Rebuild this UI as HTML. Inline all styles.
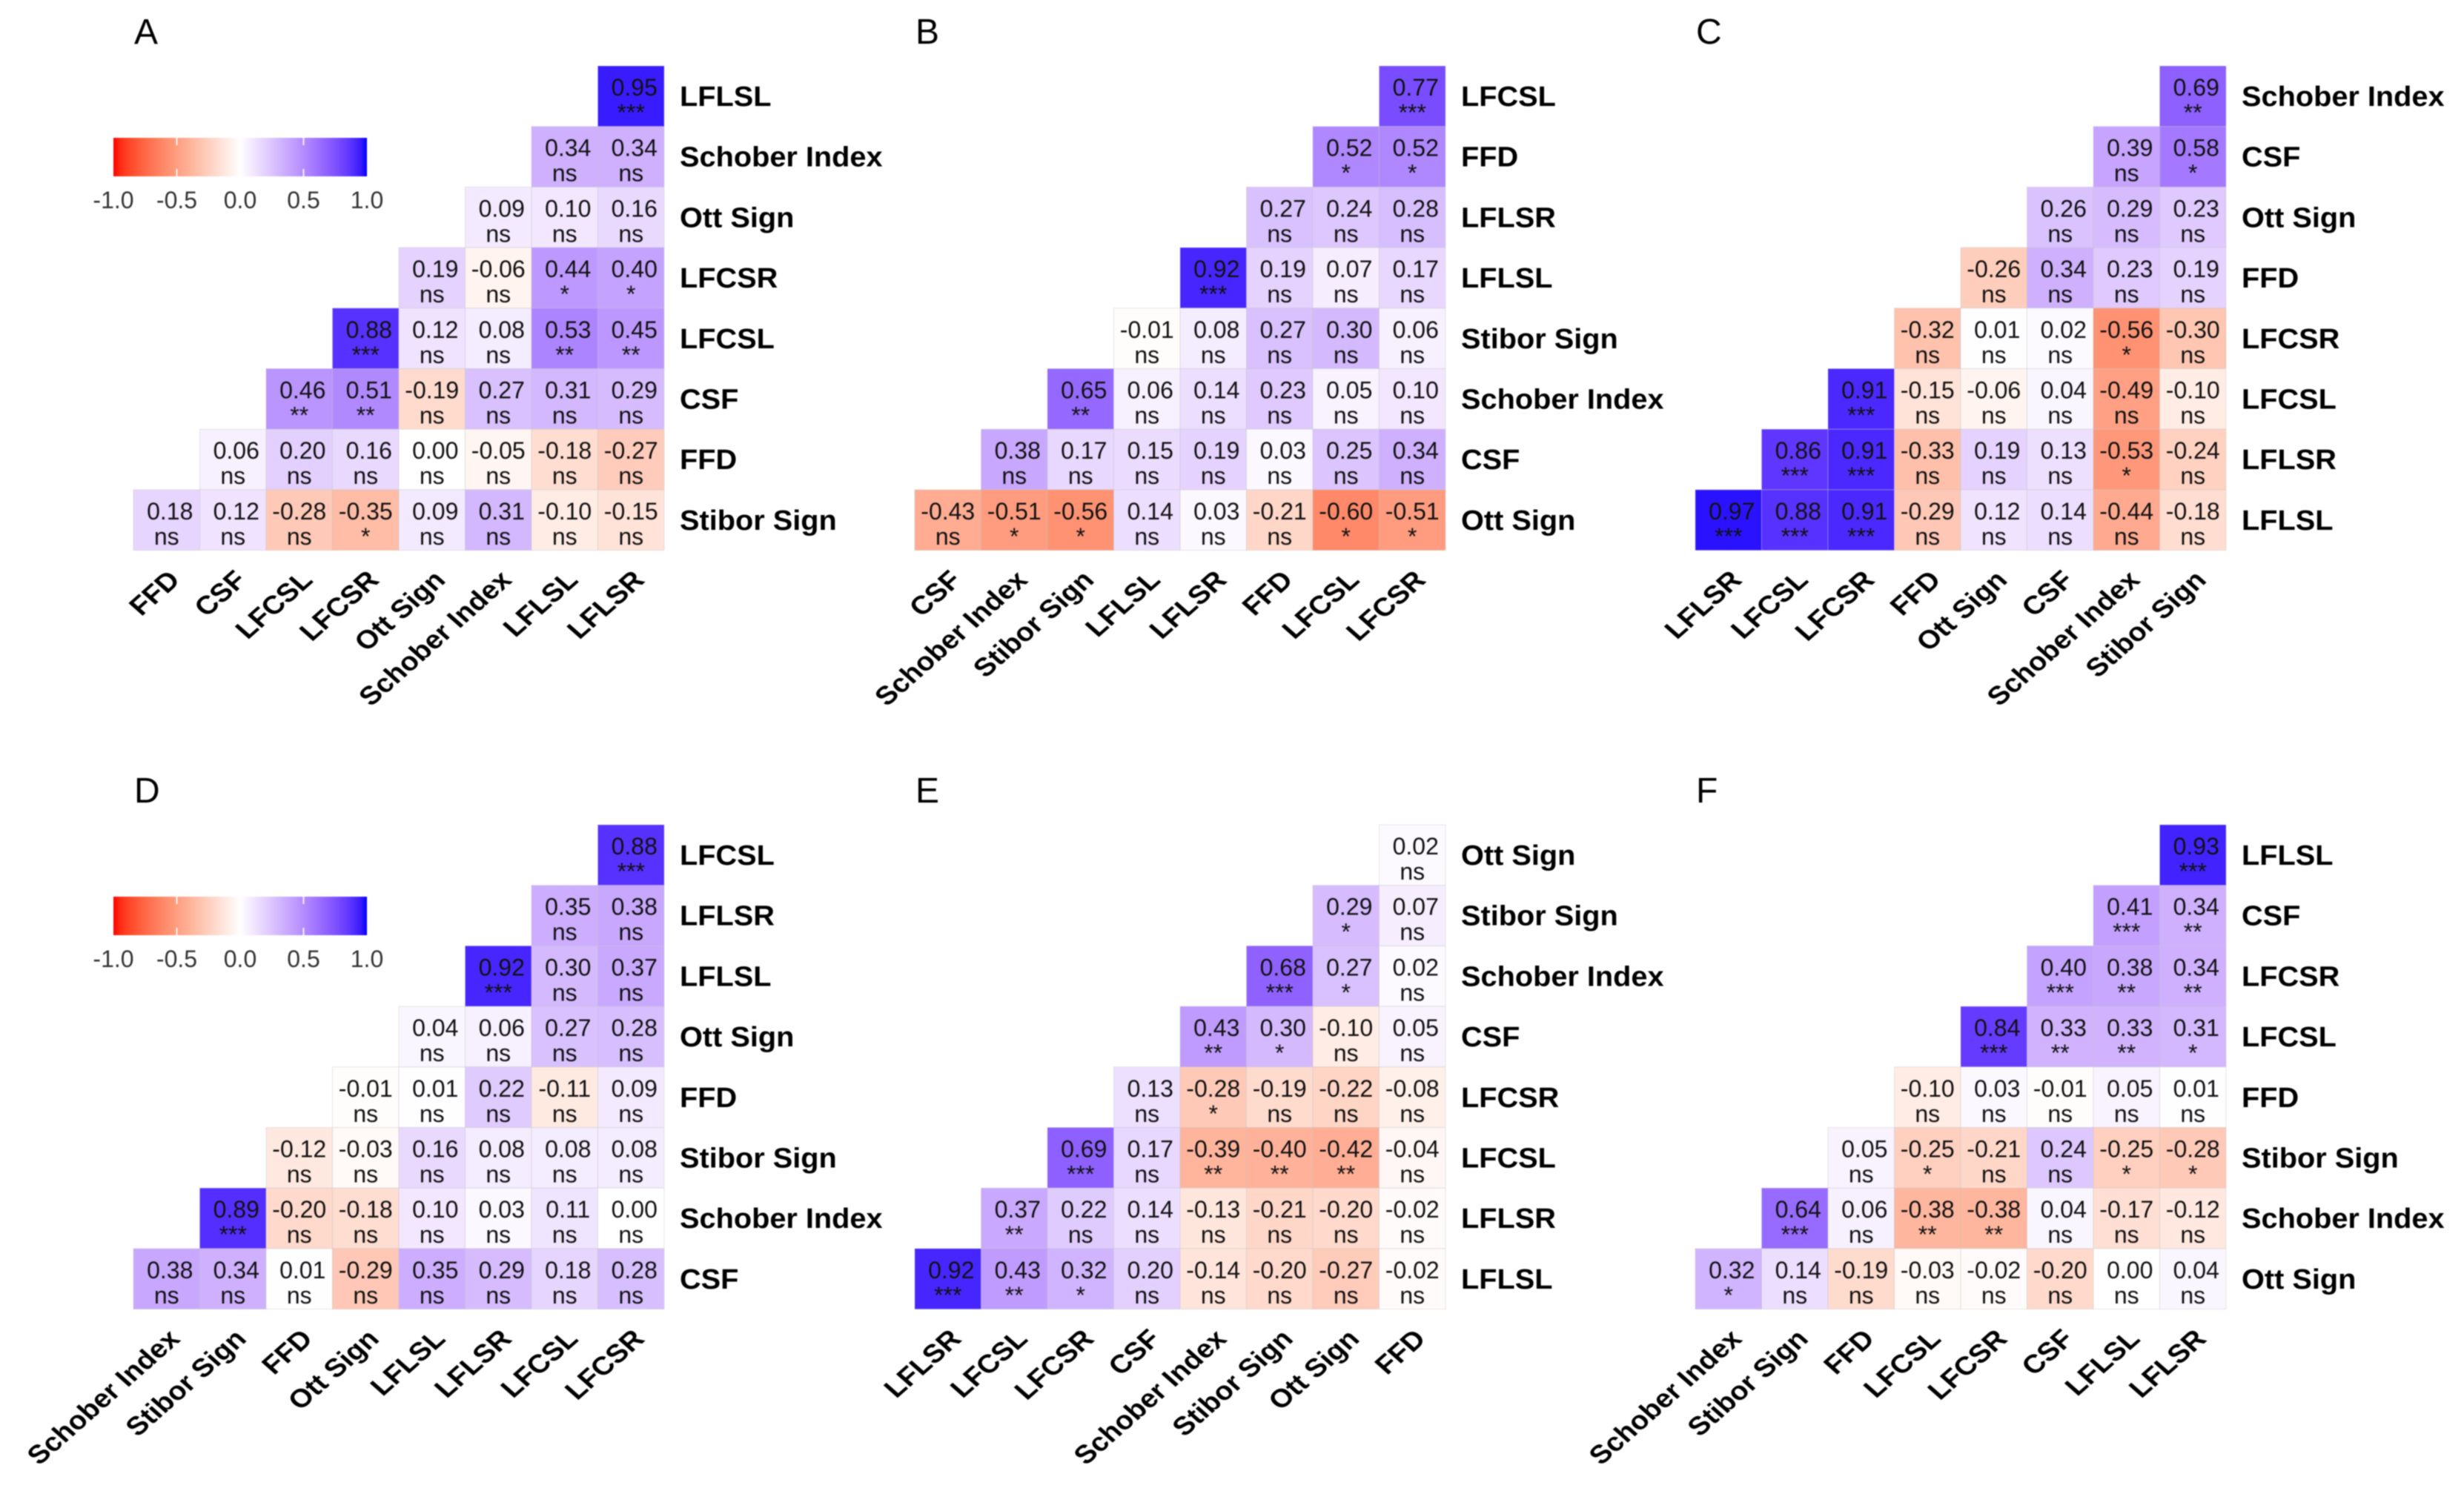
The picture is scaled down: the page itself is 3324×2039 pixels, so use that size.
<!DOCTYPE html>
<html lang="en">
<head>
<meta charset="utf-8">
<title>Correlation heatmaps A-F</title>
<style>
html,body{margin:0;padding:0;background:#fff;width:3324px;height:2039px;overflow:hidden}
svg{display:block;filter:blur(0.7px)}
text{font-family:"Liberation Sans",sans-serif}
</style>
</head>
<body>
<svg id="figure" xmlns="http://www.w3.org/2000/svg" width="3324" height="2039" viewBox="0 0 3324 2039">
<rect x="0" y="0" width="3324" height="2039" fill="#ffffff"/>
<defs id="defs"></defs>
</svg>
<script>
const panelALetter = 'A';
const panelARows = ['LFLSL','Schober Index','Ott Sign','LFCSR','LFCSL','CSF','FFD','Stibor Sign'];
const panelACols = ['FFD','CSF','LFCSL','LFCSR','Ott Sign','Schober Index','LFLSL','LFLSR'];
const panelAValues = [
 [0.95],
 [0.34,0.34],
 [0.09,0.10,0.16],
 [0.19,-0.06,0.44,0.40],
 [0.88,0.12,0.08,0.53,0.45],
 [0.46,0.51,-0.19,0.27,0.31,0.29],
 [0.06,0.20,0.16,0.00,-0.05,-0.18,-0.27],
 [0.18,0.12,-0.28,-0.35,0.09,0.31,-0.10,-0.15]
];
const panelASig = [
 ['***'],
 ['ns','ns'],
 ['ns','ns','ns'],
 ['ns','ns','*','*'],
 ['***','ns','ns','**','**'],
 ['**','**','ns','ns','ns','ns'],
 ['ns','ns','ns','ns','ns','ns','ns'],
 ['ns','ns','ns','*','ns','ns','ns','ns']
];

const panelBLetter = 'B';
const panelBRows = ['LFCSL','FFD','LFLSR','LFLSL','Stibor Sign','Schober Index','CSF','Ott Sign'];
const panelBCols = ['CSF','Schober Index','Stibor Sign','LFLSL','LFLSR','FFD','LFCSL','LFCSR'];
const panelBValues = [
 [0.77],
 [0.52,0.52],
 [0.27,0.24,0.28],
 [0.92,0.19,0.07,0.17],
 [-0.01,0.08,0.27,0.30,0.06],
 [0.65,0.06,0.14,0.23,0.05,0.10],
 [0.38,0.17,0.15,0.19,0.03,0.25,0.34],
 [-0.43,-0.51,-0.56,0.14,0.03,-0.21,-0.60,-0.51]
];
const panelBSig = [
 ['***'],
 ['*','*'],
 ['ns','ns','ns'],
 ['***','ns','ns','ns'],
 ['ns','ns','ns','ns','ns'],
 ['**','ns','ns','ns','ns','ns'],
 ['ns','ns','ns','ns','ns','ns','ns'],
 ['ns','*','*','ns','ns','ns','*','*']
];

const panelCLetter = 'C';
const panelCRows = ['Schober Index','CSF','Ott Sign','FFD','LFCSR','LFCSL','LFLSR','LFLSL'];
const panelCCols = ['LFLSR','LFCSL','LFCSR','FFD','Ott Sign','CSF','Schober Index','Stibor Sign'];
const panelCValues = [
 [0.69],
 [0.39,0.58],
 [0.26,0.29,0.23],
 [-0.26,0.34,0.23,0.19],
 [-0.32,0.01,0.02,-0.56,-0.30],
 [0.91,-0.15,-0.06,0.04,-0.49,-0.10],
 [0.86,0.91,-0.33,0.19,0.13,-0.53,-0.24],
 [0.97,0.88,0.91,-0.29,0.12,0.14,-0.44,-0.18]
];
const panelCSig = [
 ['**'],
 ['ns','*'],
 ['ns','ns','ns'],
 ['ns','ns','ns','ns'],
 ['ns','ns','ns','*','ns'],
 ['***','ns','ns','ns','ns','ns'],
 ['***','***','ns','ns','ns','*','ns'],
 ['***','***','***','ns','ns','ns','ns','ns']
];

const panelDLetter = 'D';
const panelDRows = ['LFCSL','LFLSR','LFLSL','Ott Sign','FFD','Stibor Sign','Schober Index','CSF'];
const panelDCols = ['Schober Index','Stibor Sign','FFD','Ott Sign','LFLSL','LFLSR','LFCSL','LFCSR'];
const panelDValues = [
 [0.88],
 [0.35,0.38],
 [0.92,0.30,0.37],
 [0.04,0.06,0.27,0.28],
 [-0.01,0.01,0.22,-0.11,0.09],
 [-0.12,-0.03,0.16,0.08,0.08,0.08],
 [0.89,-0.20,-0.18,0.10,0.03,0.11,0.00],
 [0.38,0.34,0.01,-0.29,0.35,0.29,0.18,0.28]
];
const panelDSig = [
 ['***'],
 ['ns','ns'],
 ['***','ns','ns'],
 ['ns','ns','ns','ns'],
 ['ns','ns','ns','ns','ns'],
 ['ns','ns','ns','ns','ns','ns'],
 ['***','ns','ns','ns','ns','ns','ns'],
 ['ns','ns','ns','ns','ns','ns','ns','ns']
];

const panelELetter = 'E';
const panelERows = ['Ott Sign','Stibor Sign','Schober Index','CSF','LFCSR','LFCSL','LFLSR','LFLSL'];
const panelECols = ['LFLSR','LFCSL','LFCSR','CSF','Schober Index','Stibor Sign','Ott Sign','FFD'];
const panelEValues = [
 [0.02],
 [0.29,0.07],
 [0.68,0.27,0.02],
 [0.43,0.30,-0.10,0.05],
 [0.13,-0.28,-0.19,-0.22,-0.08],
 [0.69,0.17,-0.39,-0.40,-0.42,-0.04],
 [0.37,0.22,0.14,-0.13,-0.21,-0.20,-0.02],
 [0.92,0.43,0.32,0.20,-0.14,-0.20,-0.27,-0.02]
];
const panelESig = [
 ['ns'],
 ['*','ns'],
 ['***','*','ns'],
 ['**','*','ns','ns'],
 ['ns','*','ns','ns','ns'],
 ['***','ns','**','**','**','ns'],
 ['**','ns','ns','ns','ns','ns','ns'],
 ['***','**','*','ns','ns','ns','ns','ns']
];

const panelFLetter = 'F';
const panelFRows = ['LFLSL','CSF','LFCSR','LFCSL','FFD','Stibor Sign','Schober Index','Ott Sign'];
const panelFCols = ['Schober Index','Stibor Sign','FFD','LFCSL','LFCSR','CSF','LFLSL','LFLSR'];
const panelFValues = [
 [0.93],
 [0.41,0.34],
 [0.40,0.38,0.34],
 [0.84,0.33,0.33,0.31],
 [-0.10,0.03,-0.01,0.05,0.01],
 [0.05,-0.25,-0.21,0.24,-0.25,-0.28],
 [0.64,0.06,-0.38,-0.38,0.04,-0.17,-0.12],
 [0.32,0.14,-0.19,-0.03,-0.02,-0.20,0.00,0.04]
];
const panelFSig = [
 ['***'],
 ['***','**'],
 ['***','**','**'],
 ['***','**','**','*'],
 ['ns','ns','ns','ns','ns'],
 ['ns','*','ns','ns','*','*'],
 ['***','ns','**','**','ns','ns','ns'],
 ['*','ns','ns','ns','ns','ns','ns','ns']
];

const legendTicks = [-1.0,-0.5,0.0,0.5,1.0];

const NS = 'http://www.w3.org/2000/svg';
const svg = document.getElementById('figure');
const defs = document.getElementById('defs');

const CELL_W = 89.5;
const CELL_H = 81.7;
const GRID_N = 8;

function xAxis(originX, col) { return originX + col * CELL_W; }
function yAxis(originY, row) { return originY + row * CELL_H; }

const LAB_WHITE = [100, 0, 0];
const LAB_BLUE = [32.30, 79.19, -107.86];
const LAB_RED = [53.24, 80.09, 67.20];

function labToRgb(L, a, b) {
  const fy = (L + 16) / 116, fx = fy + a / 500, fz = fy - b / 200;
  const inv = function (t) { return t > 6 / 29 ? t * t * t : 3 * (6 / 29) * (6 / 29) * (t - 4 / 29); };
  const X = 0.95047 * inv(fx), Y = inv(fy), Z = 1.08883 * inv(fz);
  const lin = [
    3.2406 * X - 1.5372 * Y - 0.4986 * Z,
    -0.9689 * X + 1.8758 * Y + 0.0415 * Z,
    0.0557 * X - 0.2040 * Y + 1.0570 * Z
  ];
  const c = lin.map(function (v) {
    v = Math.max(0, Math.min(1, v));
    const s = v <= 0.0031308 ? 12.92 * v : 1.055 * Math.pow(v, 1 / 2.4) - 0.055;
    return Math.round(255 * s);
  });
  return 'rgb(' + c[0] + ',' + c[1] + ',' + c[2] + ')';
}
function colorScale(v) {
  const t = Math.min(1, Math.abs(v));
  const end = v >= 0 ? LAB_BLUE : LAB_RED;
  return labToRgb(
    LAB_WHITE[0] + (end[0] - LAB_WHITE[0]) * t,
    LAB_WHITE[1] + (end[1] - LAB_WHITE[1]) * t,
    LAB_WHITE[2] + (end[2] - LAB_WHITE[2]) * t
  );
}

function make(tag, attrs, parent, content) {
  const el = document.createElementNS(NS, tag);
  for (const k in attrs) el.setAttribute(k, attrs[k]);
  if (content !== undefined) el.textContent = content;
  parent.appendChild(el);
  return el;
}

function drawLegend(ox, oy, id) {
  const bx = ox - 27, by = oy + 97, bw = 342, bh = 52;
  const g = make('g', {}, svg);
  
  
  const grad = make('linearGradient', { id: id, x1: '0', x2: '1', y1: '0', y2: '0' }, defs);
  for (let i = 0; i <= 40; i++) {
    make('stop', { offset: (i / 40), 'stop-color': colorScale(-1 + i / 20) }, grad);
  }
  const bar = make('rect', { x: bx, y: by, width: bw, height: bh, fill: 'url(#' + id + ')' }, g);
  
  
  const lx = function (v) { return bx + (v + 1) / 2 * bw; };
  legendTicks.forEach(function (t) {
    if (Math.abs(t) < 1 && t !== 0) {
      make('rect', { x: lx(t) - 1, y: by, width: 2, height: 10, fill: '#fff', opacity: 0.85 }, g);
      make('rect', { x: lx(t) - 1, y: by + bh - 10, width: 2, height: 10, fill: '#fff', opacity: 0.85 }, g);
    }
    const label = make('text', { x: lx(t), y: by + 95, 'font-size': 32, 'text-anchor': 'middle', fill: '#333' }, g, t.toFixed(1));
    
    
  });
}

function drawPanel(letter, rows, cols, values, sig, ox, oy) {
  const g = make('g', {}, svg);
  
  

  const title = make('text', { x: ox + 1, y: oy - 30, 'font-size': 48, fill: '#000' }, g, letter);
  
  

  values.forEach(function (rowVals, r) {
    const start = GRID_N - rowVals.length;
    rowVals.forEach(function (v, k) {
      const c = start + k;
      const x = xAxis(ox, c), y = yAxis(oy, r);
      const cell = make('g', {}, g);
      
      
      make('rect', { x: x, y: y, width: CELL_W, height: CELL_H, fill: colorScale(v), stroke: 'rgba(195,195,195,0.4)', 'stroke-width': 1 }, cell);
      const cx = x + CELL_W / 2;
      const vx = v < 0 ? cx : cx + 4.5;
      const valText = make('text', { x: vx, y: y + 40, 'font-size': 32, 'text-anchor': 'middle', fill: '#111' }, cell, v.toFixed(2));
      
      
      const sigText = make('text', { x: cx, y: y + 74, 'font-size': 32, 'text-anchor': 'middle', fill: '#111' }, cell, sig[r][k]);
      
      
    });
  });

  rows.forEach(function (name, r) {
    const t = make('text', {
      x: 0, y: 0, 'font-size': 38, 'font-weight': 'bold', fill: '#000',
      transform: 'translate(' + (xAxis(ox, GRID_N) + 21) + ',' + (yAxis(oy, r) + 54) + ') scale(1.045,1)'
    }, g, name);
    
    
  });

  cols.forEach(function (name, c) {
    const bxp = xAxis(ox, c) + CELL_W / 2 + 20;
    const byp = yAxis(oy, GRID_N) + 42;
    const t = make('text', {
      x: 0, y: 0, 'font-size': 37.5, 'font-weight': 'bold', 'text-anchor': 'end', fill: '#000',
      transform: 'translate(' + bxp + ',' + byp + ') scale(1.05,0.93) rotate(-45)'
    }, g, name);
    
    
  });
}

const COL_A = 180, COL_B = 1234, COL_C = 2287;
const ROW_1 = 89, ROW_2 = 1113;

drawPanel(panelALetter, panelARows, panelACols, panelAValues, panelASig, COL_A, ROW_1);
drawPanel(panelBLetter, panelBRows, panelBCols, panelBValues, panelBSig, COL_B, ROW_1);
drawPanel(panelCLetter, panelCRows, panelCCols, panelCValues, panelCSig, COL_C, ROW_1);
drawPanel(panelDLetter, panelDRows, panelDCols, panelDValues, panelDSig, COL_A, ROW_2);
drawPanel(panelELetter, panelERows, panelECols, panelEValues, panelESig, COL_B, ROW_2);
drawPanel(panelFLetter, panelFRows, panelFCols, panelFValues, panelFSig, COL_C, ROW_2);
drawLegend(COL_A, ROW_1, 'legend-gradient-top');
drawLegend(COL_A, ROW_2, 'legend-gradient-bottom');
</script>
</body>
</html>
